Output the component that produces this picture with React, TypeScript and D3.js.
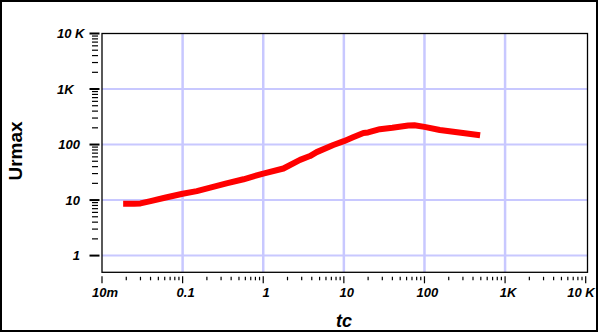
import React from 'react';
import * as d3 from 'd3';

// readings of the red curve (tc, Urmax)
const tcValues = [0.0183, 0.025, 0.03, 0.04, 0.06, 0.1, 0.15, 0.22, 0.35, 0.57, 1.0, 1.78, 2.86, 3.8, 4.6, 7.4, 10, 13, 17.5, 20, 28, 40, 63, 75, 100, 155, 300, 490];
const urmaxValues = [8.6, 8.6, 8.7, 9.6, 11, 13, 14.5, 16.7, 20, 23.7, 30, 37, 53, 62, 73, 98, 115, 135, 162, 165, 189, 200, 220, 222, 208, 183, 162, 147];

const xTicks = [0.01, 0.1, 1, 10, 100, 1000, 10000];
const xTickLabels = ['10m', '0.1', '1', '10', '100', '1K', '10 K'];
const yTicks = [1, 10, 100, 1000, 10000];
const yTickLabels = ['1', '10', '100', '1K', '10 K'];

const W = 600;
const H = 333;
const gridColor = '#c8c8ff';
const font = '"Liberation Sans", Arial, sans-serif';

export default function App() {
  const x = d3.scaleLog().domain([0.01, 10000]).range([102, 585.7]);
  const y = d3.scaleLog().domain([0.5, 10000]).range([272.3, 33.5]);

  const left = x(0.01);
  const right = x(10000) + 1.8;
  const top = y(10000);
  const bottom = y(0.5);

  // minor ticks: 2..9 in every decade
  const minorX: number[] = [];
  xTicks.slice(0, -1).forEach((d) => {
    for (let k = 2; k <= 9; k++) minorX.push(d * k);
  });
  const minorY: number[] = [];
  yTicks.slice(0, -1).forEach((d) => {
    for (let k = 2; k <= 9; k++) minorY.push(d * k);
  });

  const pts = tcValues.map((t, i) => [t, urmaxValues[i]] as [number, number]);
  const line = d3.line<[number, number]>()
    .x((d) => x(d[0]))
    .y((d) => y(d[1]));

  return (
    <svg width={W} height={H} style={{ position: 'absolute', left: 0, top: 0, background: '#fff' }}>
      <rect x={1} y={1} width={W - 4} height={H - 3} fill="#fff" stroke="#000" strokeWidth={2} />

      {/* grid */}
      {xTicks.slice(1, -1).map((d) => (
        <line key={'gx' + d} x1={x(d)} x2={x(d)} y1={top} y2={bottom} stroke={gridColor} strokeWidth={2.5} />
      ))}
      {yTicks.slice(0, -1).map((d) => (
        <line key={'gy' + d} x1={left} x2={right} y1={y(d)} y2={y(d)} stroke={gridColor} strokeWidth={2} />
      ))}

      {/* plot frame */}
      <rect x={left} y={top} width={right - left} height={bottom - top} fill="none" stroke="#000" strokeWidth={1.3} />

      {/* data */}
      <path d={line(pts) || ''} fill="none" stroke="#ff0000" strokeWidth={6} strokeLinejoin="round" />

      {/* x ticks */}
      {xTicks.map((d) => (
        <line key={'tx' + d} x1={x(d)} x2={x(d)} y1={bottom + 4} y2={bottom + 11} stroke="#000" strokeWidth={1.2} />
      ))}
      {minorX.map((d) => (
        <line key={'mx' + d} x1={x(d)} x2={x(d)} y1={bottom + 4.5} y2={bottom + 8} stroke="#000" strokeWidth={1.2} />
      ))}
      {xTicks.map((d, i) => (
        <text key={'lx' + d} x={Math.min(x(d) + 3, 581)} y={296.5} textAnchor="middle"
          fontFamily={font} fontWeight="bold" fontStyle="italic" fontSize={13}>
          {xTickLabels[i]}
        </text>
      ))}

      {/* y ticks */}
      {yTicks.map((d) => (
        <line key={'ty' + d} x1={89.5} x2={99.5} y1={y(d)} y2={y(d)} stroke="#000" strokeWidth={2} />
      ))}
      {minorY.map((d) => (
        <line key={'my' + d} x1={92} x2={98} y1={y(d)} y2={y(d)} stroke="#000" strokeWidth={1.2} />
      ))}
      {yTicks.map((d, i) => {
        const isK = yTickLabels[i].includes('K');
        return (
          <text key={'ly' + d} x={isK ? 57 : 80} y={y(d) + 4.6} textAnchor={isK ? 'start' : 'end'}
            fontFamily={font} fontWeight="bold" fontStyle="italic" fontSize={13}>
            {yTickLabels[i]}
          </text>
        );
      })}

      {/* axis titles */}
      <text x={344} y={327} textAnchor="middle" fontFamily={font} fontWeight="bold" fontStyle="italic" fontSize={18}>tc</text>
      <text transform="translate(21.5,151) rotate(-90)" textAnchor="middle" fontFamily={font} fontWeight="bold" fontSize={19}>Urmax</text>
    </svg>
  );
}
